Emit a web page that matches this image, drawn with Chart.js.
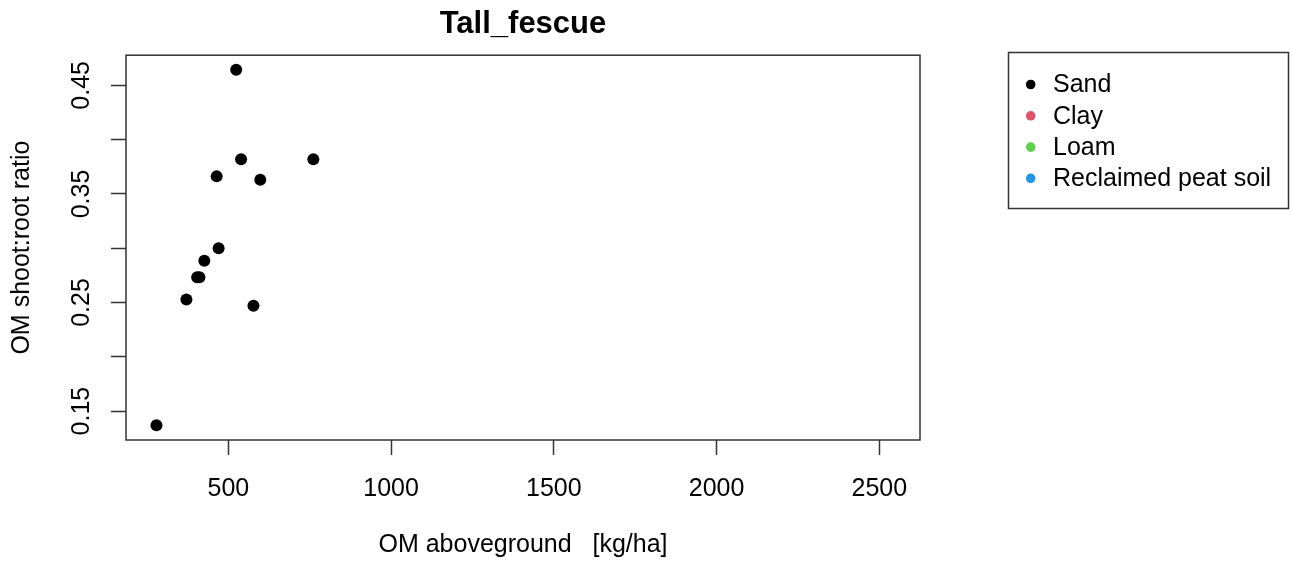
<!DOCTYPE html>
<html lang="en">
<head>
  <meta charset="UTF-8">
  <title>Tall_fescue</title>
  <style>
    html, body { margin: 0; padding: 0; background: #fff; }
    #wrap { width: 1292px; height: 567px; }
  </style>
</head>
<body>
  <div id="wrap"><canvas id="chart"></canvas></div>

  <script src="https://cdn.jsdelivr.net/npm/chart.js"></script>
  <script>
    // soil types and their colours
    const soilNames = ['Sand', 'Clay', 'Loam', 'Reclaimed peat soil'];
    const soilColors = ['#000000', '#DF536B', '#61D04F', '#2297E6'];

    // OM aboveground [kg/ha] and shoot:root ratio per soil type
    const sandX = [524, 539, 761, 464, 598, 470, 426, 404, 411, 371, 577, 279];
    const sandY = [0.4644, 0.382, 0.382, 0.3662, 0.363, 0.300, 0.2884, 0.2734, 0.2734, 0.2528, 0.247, 0.137];
    const clayX = [], clayY = [];
    const loamX = [], loamY = [];
    const peatX = [], peatY = [];

    // axis ranges and ticks
    const xRange = [185.4, 2625];
    const yRange = [0.1234, 0.4778];
    const xTicks = [500, 1000, 1500, 2000, 2500];
    const yTicks = [0.15, 0.20, 0.25, 0.30, 0.35, 0.40, 0.45];
    const yLabels = ['0.15', '', '0.25', '', '0.35', '', '0.45'];

    const toPoints = (xs, ys) => xs.map((x, i) => ({ x: x, y: ys[i] }));
    const seriesX = [sandX, clayX, loamX, peatX];
    const seriesY = [sandY, clayY, loamY, peatY];

    const datasets = soilNames.map((name, i) => ({
      label: name,
      data: toPoints(seriesX[i], seriesY[i]),
      backgroundColor: soilColors[i],
      borderColor: soilColors[i],
      borderWidth: 0,
      pointRadius: 6,
      pointHoverRadius: 6
    }));

    const axisFont = { family: 'Liberation Sans, Arial, sans-serif', size: 25 };

    // box around the plot region
    const plotBox = {
      id: 'plotBox',
      afterDraw(chart) {
        const { ctx, chartArea: a } = chart;
        ctx.save();
        ctx.strokeStyle = '#333';
        ctx.lineWidth = 1.5;
        ctx.strokeRect(a.left, a.top, a.right - a.left, a.bottom - a.top);
        ctx.restore();
      }
    };

    // legend with a frame, on the right
    const boxLegend = {
      id: 'boxLegend',
      afterDraw(chart) {
        const ctx = chart.ctx;
        ctx.save();
        ctx.strokeStyle = '#333';
        ctx.lineWidth = 1.5;
        ctx.strokeRect(1008.5, 52.5, 280, 156);
        ctx.font = '25px Liberation Sans, Arial, sans-serif';
        ctx.textBaseline = 'middle';
        ctx.textAlign = 'left';
        chart.data.datasets.forEach((ds, i) => {
          const y = 84.5 + i * 31.3;
          ctx.fillStyle = ds.backgroundColor;
          ctx.beginPath();
          ctx.arc(1030.7, y, 4.8, 0, Math.PI * 2);
          ctx.fill();
          ctx.fillStyle = '#000';
          ctx.fillText(ds.label, 1053, y + 1);
        });
        ctx.restore();
      }
    };

    new Chart(document.getElementById('chart'), {
      type: 'scatter',
      data: { datasets: datasets },
      options: {
        responsive: true,
        maintainAspectRatio: false,
        animation: false,
        events: [],
        layout: { padding: { left: 0, right: 372, top: 0, bottom: 0 } },
        plugins: {
          legend: { display: false },
          tooltip: { enabled: false },
          title: {
            display: true,
            text: 'Tall_fescue',
            fullSize: false,
            color: '#000',
            font: { family: 'Liberation Sans, Arial, sans-serif', size: 31, weight: 'bold' },
            padding: { top: 6, bottom: 12 }
          }
        },
        scales: {
          x: {
            type: 'linear',
            min: xRange[0],
            max: xRange[1],
            afterBuildTicks: axis => { axis.ticks = xTicks.map(v => ({ value: v })); },
            afterFit: axis => { axis.height = 127; },
            border: { display: false },
            grid: { drawOnChartArea: false, drawTicks: true, tickLength: 15, tickColor: '#333', tickWidth: 1.5 },
            ticks: {
              color: '#000',
              font: axisFont,
              padding: 19,
              maxRotation: 0,
              autoSkip: false,
              callback: v => String(v)
            },
            title: {
              display: true,
              text: 'OM aboveground   [kg/ha]',
              color: '#000',
              font: axisFont,
              padding: { top: 0, bottom: 7 }
            }
          },
          y: {
            type: 'linear',
            min: yRange[0],
            max: yRange[1],
            afterBuildTicks: axis => { axis.ticks = yTicks.map(v => ({ value: v })); },
            afterFit: axis => { axis.width = 126; },
            border: { display: false },
            grid: { drawOnChartArea: false, drawTicks: true, tickLength: 15, tickColor: '#333', tickWidth: 1.5 },
            ticks: {
              color: '#000',
              font: axisFont,
              padding: 5,
              minRotation: 90,
              maxRotation: 90,
              crossAlign: 'center',
              autoSkip: false,
              callback: (v, i) => yLabels[i]
            },
            title: {
              display: true,
              text: 'OM shoot:root ratio',
              color: '#000',
              font: axisFont,
              padding: { top: 7, bottom: 0 }
            }
          }
        }
      },
      plugins: [plotBox, boxLegend]
    });
  </script>
</body>
</html>
